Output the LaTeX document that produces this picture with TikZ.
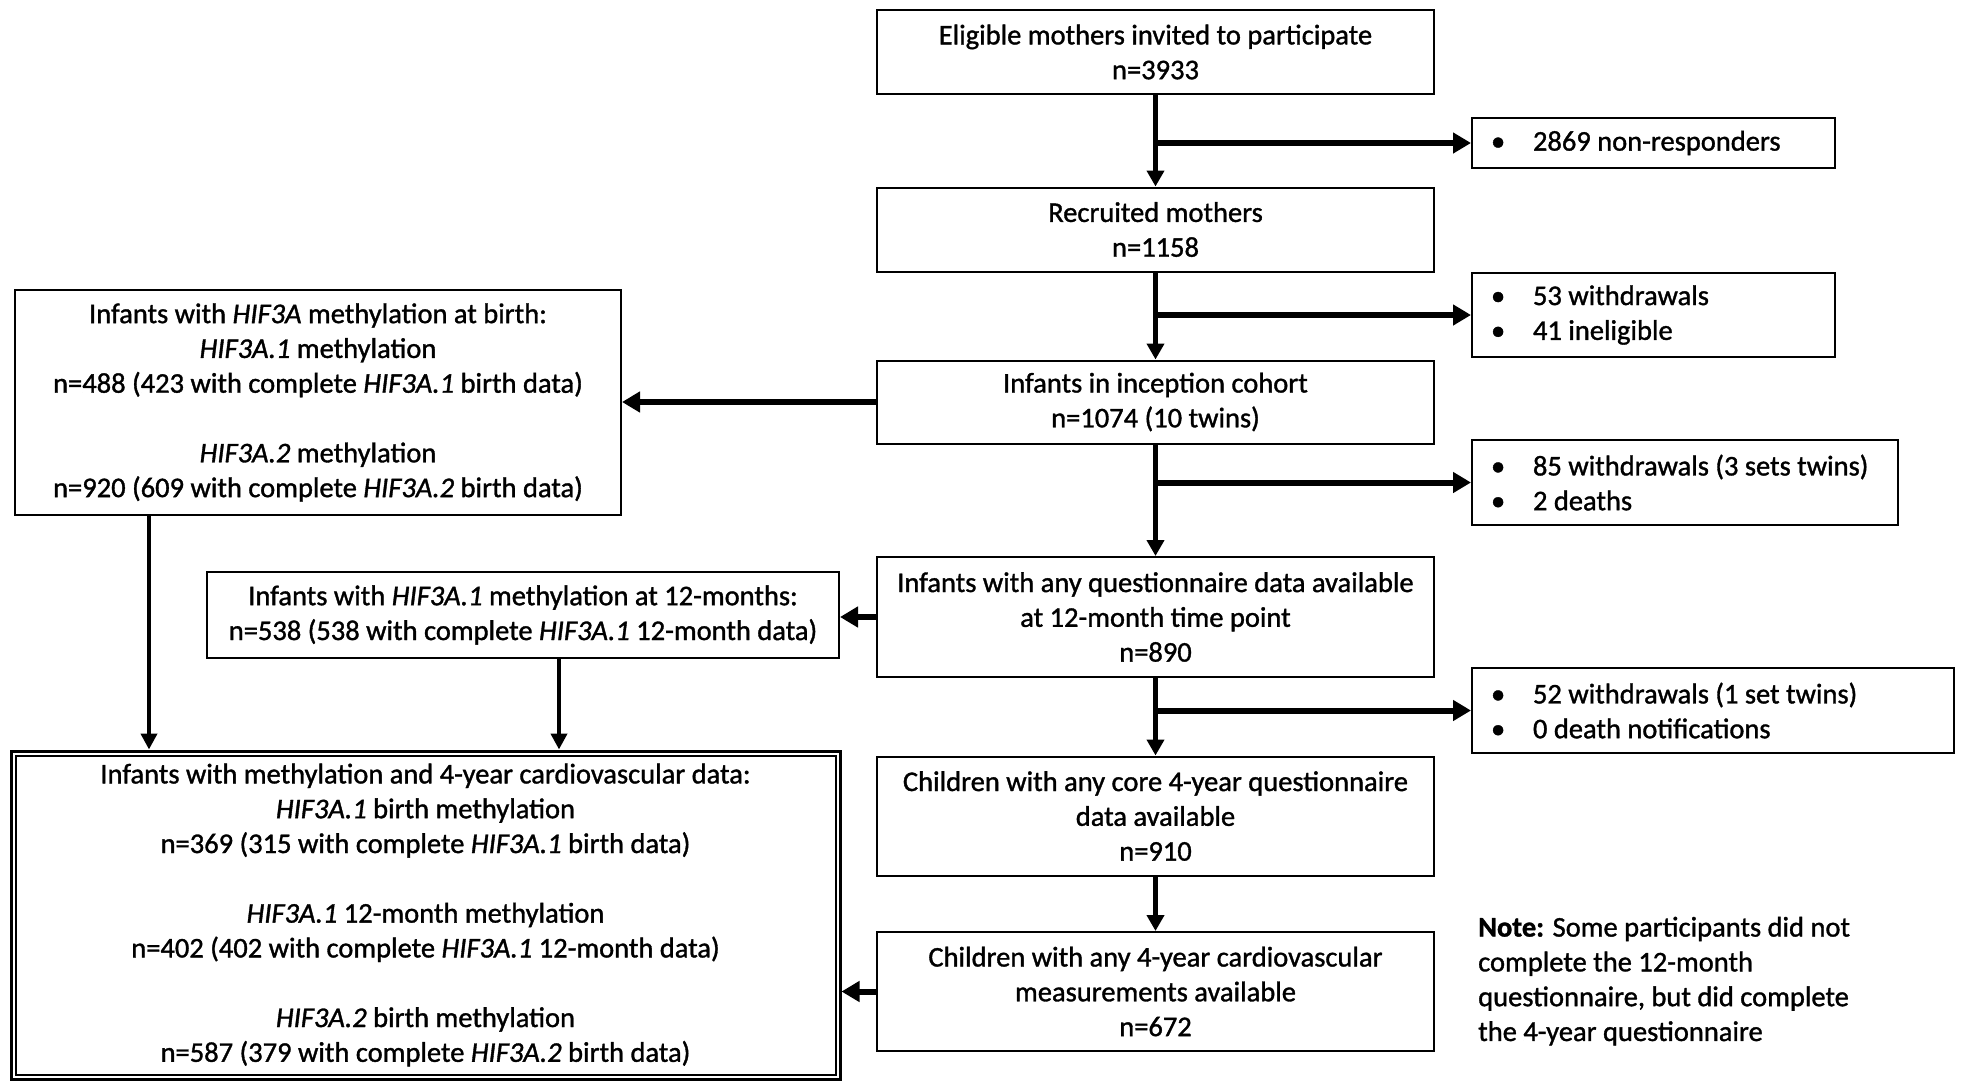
\documentclass[tikz,border=0pt]{standalone}
\usepackage{fontspec}
\setmainfont{Carlito}[FakeBold=1.2]
\usetikzlibrary{arrows.meta}
\newcommand\bul{\makebox[42pt][l]{•}}
\begin{document}
\begin{tikzpicture}[x=1pt,y=-1pt,
  txt/.style={font=\fontsize{28.5}{34.8}\selectfont},
  box/.style={txt, draw, line width=2pt, align=center, inner sep=0pt},
  mainbox/.style={box, minimum width=557pt},
  sidebox/.style={txt, draw, line width=2pt, inner xsep=19pt, inner ysep=0pt},
  varr/.style={line width=5pt, -{Triangle[length=16pt,width=17pt]}},
  harr/.style={line width=6pt, -{Triangle[length=18pt,width=20pt]}},
  darr/.style={line width=4pt, -{Triangle[length=16pt,width=16pt]}}
]
\fill[white] (0,0) rectangle (1964,1082);
\useasboundingbox (0,0) rectangle (1964,1082);

% main column
\node[mainbox, minimum height=84pt] (b1) at (1155.5,52) {Eligible mothers invited to participate\\n=3933};
\node[mainbox, minimum height=84pt] (b2) at (1155.5,229.5) {Recruited mothers\\n=1158};
\node[mainbox, minimum height=83pt] (b3) at (1155.5,402) {Infants in inception cohort\\n=1074 (10 twins)};
\node[mainbox, minimum height=120pt] (b4) at (1155.5,617) {Infants with any questionnaire data available\\at 12-month time point\\n=890};
\node[mainbox, minimum height=119pt] (b5) at (1155.5,816) {Children with any core 4-year questionnaire\\data available\\n=910};
\node[mainbox, minimum height=119pt] (b6) at (1155.5,991.5) {Children with any 4-year cardiovascular\\measurements available\\n=672};

% side boxes
\node[sidebox, minimum height=50pt] (nr) at (1653.5,143) {\parbox{325pt}{\bul 2869 non-responders}};
\node[sidebox, minimum height=84pt] (w1) at (1653.5,315) {\parbox{325pt}{\bul 53 withdrawals\\\bul 41 ineligible}};
\node[sidebox, minimum height=85pt] (w2) at (1685,482.5) {\parbox{388pt}{\bul 85 withdrawals (3 sets twins)\\\bul 2 deaths}};
\node[sidebox, minimum height=85pt] (w3) at (1713,710.5) {\parbox{444pt}{\bul 52 withdrawals (1 set twins)\\\bul 0 death notifications}};

% left boxes
\node[box, minimum width=606pt, minimum height=225pt] (L1) at (318,402.5) {Infants with \textit{HIF3A} methylation at birth:\\\textit{HIF3A.1} methylation\\n=488 (423 with complete \textit{HIF3A.1} birth data)\\[34.8pt]\textit{HIF3A.2} methylation\\n=920 (609 with complete \textit{HIF3A.2} birth data)};
\node[box, minimum width=632pt, minimum height=86pt] (L2) at (523,615) {Infants with \textit{HIF3A.1} methylation at 12-months:\\n=538 (538 with complete \textit{HIF3A.1} 12-month data)};

\node[box, line width=3pt, minimum width=829pt, minimum height=328pt] (B) at (425.5,915) {Infants with methylation and 4-year cardiovascular data:\\\textit{HIF3A.1} birth methylation\\n=369 (315 with complete \textit{HIF3A.1} birth data)\\[34.8pt]\textit{HIF3A.1} 12-month methylation\\n=402 (402 with complete \textit{HIF3A.1} 12-month data)\\[34.8pt]\textit{HIF3A.2} birth methylation\\n=587 (379 with complete \textit{HIF3A.2} birth data)};
\draw[line width=2pt] ([shift={(6,6)}]B.north west) rectangle ([shift={(-6,-6)}]B.south east);

% note
\node[txt, anchor=north west, inner sep=0pt] (note) at (1478,912) {\begin{tabular}{@{}l@{}}\textbf{Note:} Some participants did not\\complete the 12-month\\questionnaire, but did complete\\the 4-year questionnaire\end{tabular}};

% main vertical arrows
\draw[varr] (b1.south) -- (b2.north);
\draw[varr] (b2.south) -- (b3.north);
\draw[varr] (b3.south) -- (b4.north);
\draw[varr] (b4.south) -- (b5.north);
\draw[varr] (b5.south) -- (b6.north);

% side arrows
\draw[harr] (b1.south |- nr.west) -- (nr.west);
\draw[harr] (b2.south |- w1.west) -- (w1.west);
\draw[harr] (b3.south |- w2.west) -- (w2.west);
\draw[harr] (b4.south |- w3.west) -- (w3.west);

% left arrows
\draw[harr] (b3.west) -- (b3.west -| L1.east);
\draw[harr] (b4.west) -- (b4.west -| L2.east);
\draw[harr] (b6.west) -- (b6.west -| B.east);

% down arrows to B
\draw[darr] ([xshift=135pt]L1.south west) -- ([xshift=135pt]L1.south west |- B.north);
\draw[darr] ([xshift=353pt]L2.south west) -- ([xshift=353pt]L2.south west |- B.north);
\end{tikzpicture}
\end{document}
